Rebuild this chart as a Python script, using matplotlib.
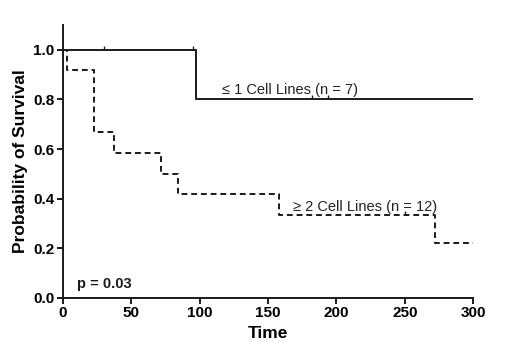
import matplotlib
matplotlib.use("Agg")
import matplotlib.pyplot as plt
from matplotlib.path import Path

plt.rcParams['font.family'] = ['Liberation Sans', 'DejaVu Sans']

# Group 1: <= 1 cell lines (n = 7)
t1 = [0, 97, 300]
s1 = [1.0, 0.8, 0.8]
c1_t = [30, 95, 182, 194]
c1_s = [1.0, 1.0, 0.8, 0.8]

# Group 2: >= 2 cell lines (n = 12)
t2 = [0, 3, 23, 37, 72, 84, 158, 272, 300]
s2 = [1.0, 0.917, 0.667, 0.583, 0.5, 0.417, 0.333, 0.222, 0.222]
c2_t = [250]
c2_s = [0.333]

xticks = [0, 50, 100, 150, 200, 250, 300]
yticks = [0.0, 0.2, 0.4, 0.6, 0.8, 1.0]

fig = plt.figure(figsize=(5.2, 3.56), dpi=100)
ax = fig.add_axes([0.121, 0.163, 0.789, 0.767])

tick_marker = Path([[0, 0], [0, 1]])

ax.step(t1, s1, where='post', color='#1a1a1a', lw=1.4)
ax.plot(c1_t, c1_s, linestyle='none', marker=tick_marker, markersize=6,
        markeredgecolor='#1a1a1a', markeredgewidth=1.0)
ax.step(t2, s2, where='post', color='#1a1a1a', lw=1.4, linestyle=(0, (3, 2)))
ax.plot(c2_t, c2_s, linestyle='none', marker=tick_marker, markersize=6,
        markeredgecolor='#1a1a1a', markeredgewidth=1.0)

ax.set_xlim(0, 300)
ax.set_ylim(0, 1.1)
ax.set_xticks(xticks)
ax.set_yticks(yticks)
ax.set_xticklabels([str(v) for v in xticks], fontweight='bold', fontsize=11)
ax.set_yticklabels([f"{v:.1f}" for v in yticks], fontweight='bold', fontsize=11)
ax.spines['top'].set_visible(False)
ax.spines['right'].set_visible(False)
for sp in ['left', 'bottom']:
    ax.spines[sp].set_linewidth(1.4)
    ax.spines[sp].set_color('#1a1a1a')
ax.tick_params(direction='out', length=4, width=1.4, color='#1a1a1a', pad=2)

ax.set_xlabel('Time', fontweight='bold', fontsize=12.5, labelpad=4)
ax.set_ylabel('Probability of Survival', fontweight='bold', fontsize=12.5, labelpad=4)

ax.text(116, 0.82, '≤ 1 Cell Lines (n = 7)', fontsize=10.5, color='#222222')
ax.text(168, 0.35, '≥ 2 Cell Lines (n = 12)', fontsize=10.5, color='#222222')
ax.text(10, 0.04, 'p = 0.03', fontsize=10.5, fontweight='bold', color='#1a1a1a')

fig.savefig('out.png', dpi=100)
